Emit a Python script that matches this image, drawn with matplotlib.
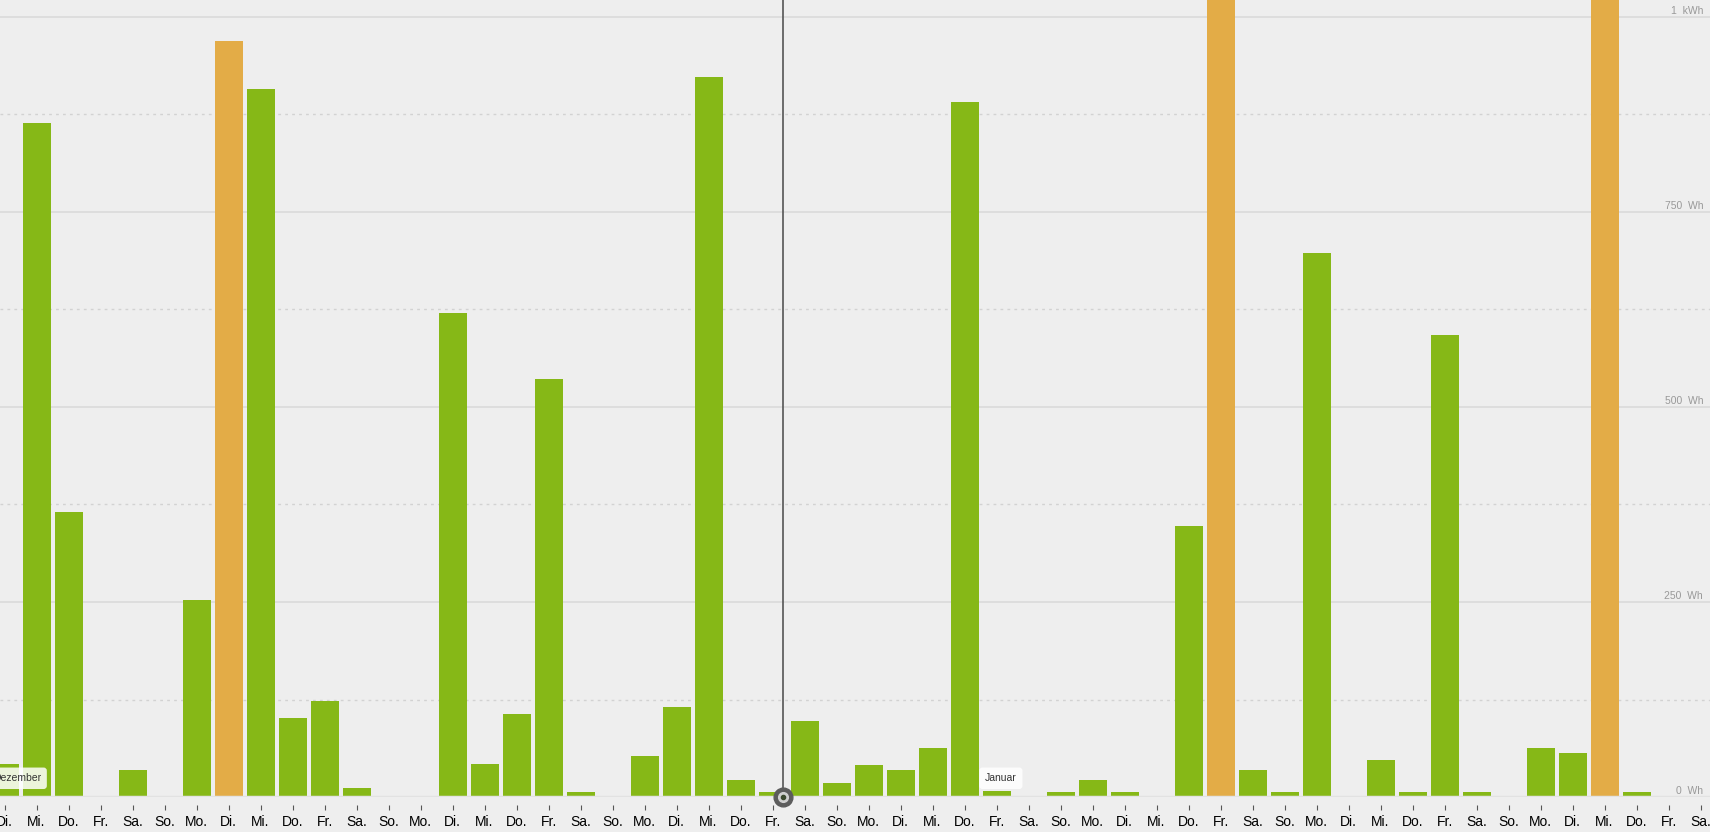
import matplotlib.pyplot as plt
import numpy as np

# days from Tue 1 Dec to Sat 23 Jan
day_labels = ["Di.", "Mi.", "Do.", "Fr.", "Sa.", "So.", "Mo."] * 8
day_labels = day_labels[:54]
values = [42, 864, 366, 0, 34, 0, 252, 969, 908, 101, 123, 11, 0, 0,
          620, 42, 106, 536, 6, 0, 53, 116, 923, 22, 6, 97, 18, 41,
          35, 63, 891, 8, 0, 6, 22, 6, 0, 348, 1150, 34, 6, 697, 0, 48,
          6, 592, 6, 0, 63, 57, 1150, 6, 0, 0]
orange_days = [7, 38, 50]
month_names = ["Dezember", "Januar"]
month_starts = [0, 31]
y_ticks = [0, 250, 500, 750, 1000]
y_tick_labels = ["0  Wh", "250  Wh", "500  Wh", "750  Wh", "1  kWh"]
cursor_x = 24.32

green = "#86b817"
orange = "#e3ac47"
bg = "#eeeeee"

plt.rcParams["font.family"] = ["Liberation Sans", "DejaVu Sans"]

fig = plt.figure(figsize=(17.1, 8.32), dpi=100, facecolor=bg)
ax = fig.add_axes([0, 35 / 832, 1, 797 / 832])
ax.set_facecolor(bg)

x = np.arange(len(values))
colors = [orange if i in orange_days else green for i in x]
ax.bar(x, values, width=0.875, color=colors, zorder=2)

# grid
for v in y_ticks:
    ax.axhline(v, color="#dcdcdc", lw=1.3, zorder=1)
for v in [125, 375, 625, 875]:
    ax.axhline(v, color="#d2d2d2", lw=1, ls=(0, (2, 3)), zorder=1)
ax.axhline(0, color="#e2e2e2", lw=2.5, zorder=3)

ax.set_xlim(-4.5 / 32, (1710 - 4.5) / 32)
ax.set_ylim(0, 797 / 0.78)

# y labels inside plot at the right
for v, lab in zip(y_ticks, y_tick_labels):
    ax.annotate(lab, xy=(1, v), xycoords=("axes fraction", "data"),
                xytext=(-7, 1), textcoords="offset pixels",
                ha="right", va="bottom", fontsize=7.5, color="#999999")

# x axis
ax.set_yticks([])
ax.set_xticks(x)
ax.set_xticklabels(day_labels, fontsize=7.3, color="#555555")
ax.tick_params(axis="x", length=3.6, width=0.8, color="#555555", pad=3.5)
for s in ax.spines.values():
    s.set_visible(False)
ax.spines["bottom"].set_position(("outward", 5.8))

# month labels
for name, start in zip(month_names, month_starts):
    ax.text(start - 0.36, 24, name, ha="left", va="center", fontsize=7.5,
            color="#333333", zorder=5,
            bbox=dict(boxstyle="round,pad=0.55,rounding_size=0.3",
                      fc="white", ec="none", alpha=0.85))

# hover cursor
ax.axvline(cursor_x, color="#555555", lw=1.2, zorder=6)
ax.plot([cursor_x], [0], "o", ms=13.5, color="#5c5c5c", clip_on=False, zorder=7)
ax.plot([cursor_x], [0], "o", ms=7, color="#d0d0d0", clip_on=False, zorder=8)
ax.plot([cursor_x], [0], "o", ms=3, color="#3c4a30", clip_on=False, zorder=9)

fig.savefig("out.png", dpi=100, facecolor=bg)
